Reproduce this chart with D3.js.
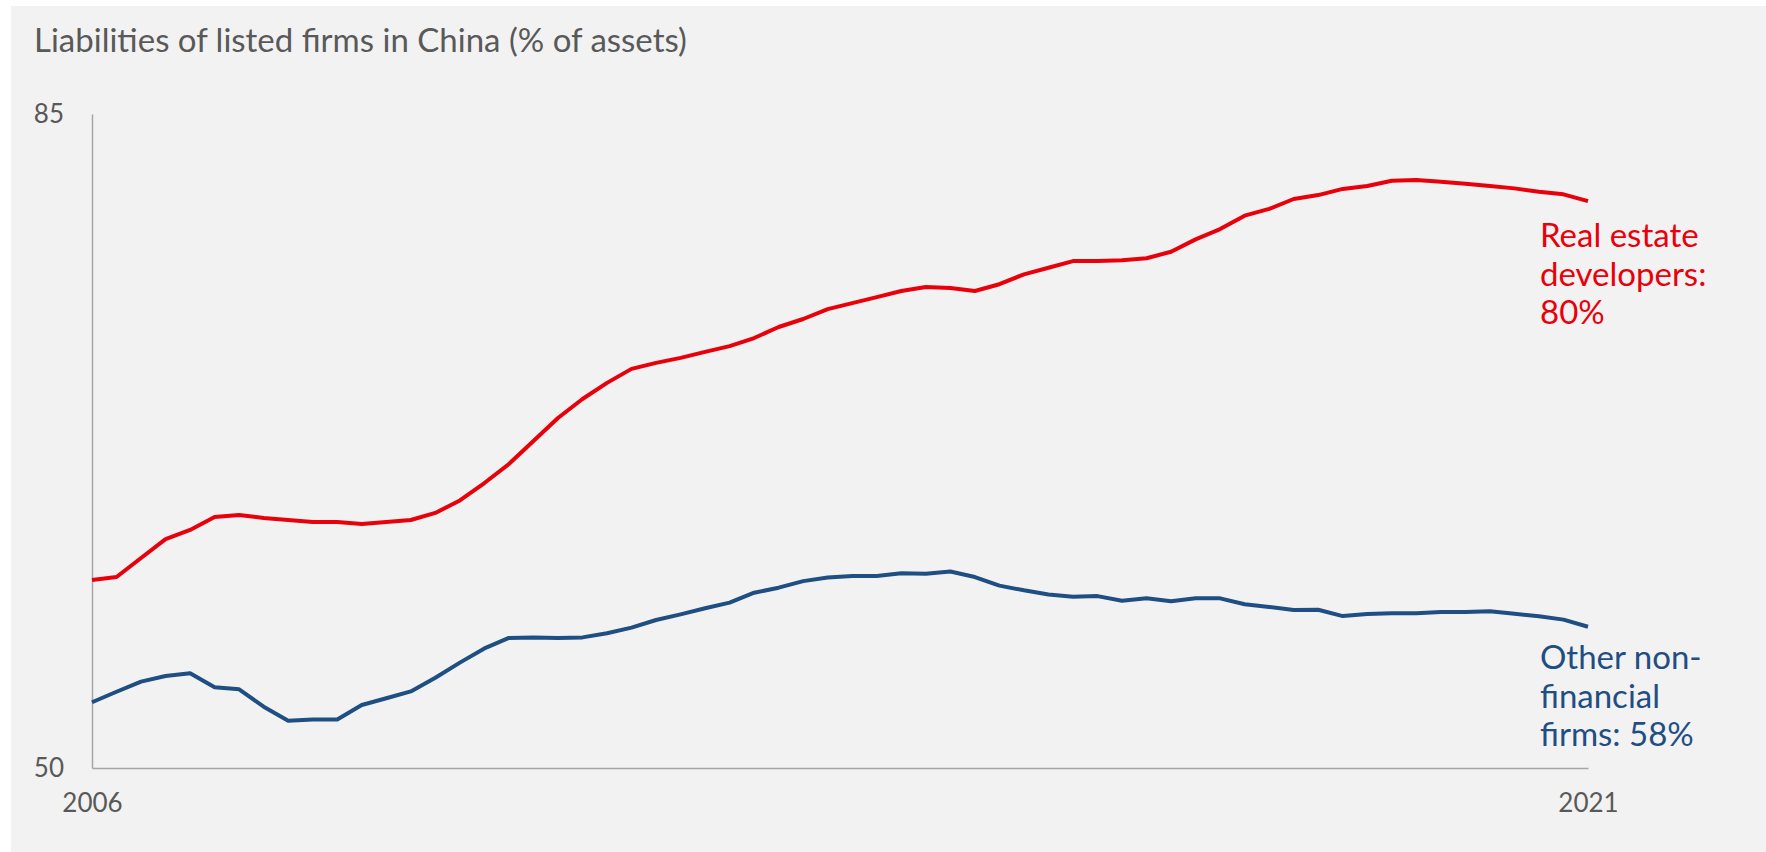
<!DOCTYPE html>
<html>
<head>
<meta charset="utf-8">
<script src="https://cdn.jsdelivr.net/npm/d3@7"></script>
<style>
  body { margin: 0; background: #fff; overflow: hidden; }
  svg { display: block; font-family: Lato, "Open Sans", sans-serif; }
</style>
</head>
<body>
<div id="chart"></div>
<script>
// Data: quarterly, 2006 Q1 .. 2021 Q2 (% of assets)
const periods = d3.range(62).map(i => 2006 + i * 0.25);

const realEstate = [
  60.06, 60.22, 61.24, 62.25, 62.74, 63.43, 63.54, 63.38, 63.27, 63.16,
  63.16, 63.06, 63.16, 63.27, 63.65, 64.32, 65.25, 66.27, 67.50, 68.73,
  69.75, 70.61, 71.36, 71.68, 71.95, 72.27, 72.58, 73.01, 73.60, 74.03,
  74.56, 74.88, 75.20, 75.53, 75.74, 75.69, 75.53, 75.89, 76.42, 76.77,
  77.13, 77.13, 77.17, 77.28, 77.63, 78.29, 78.84, 79.56, 79.92, 80.45,
  80.66, 80.99, 81.15, 81.43, 81.47, 81.37, 81.27, 81.15, 81.02, 80.84,
  80.70, 80.34
];

const otherNonFin = [
  53.52, 54.08, 54.62, 54.92, 55.07, 54.32, 54.21, 53.28, 52.53, 52.60,
  52.60, 53.37, 53.73, 54.10, 54.83, 55.64, 56.40, 56.96, 56.99, 56.96,
  56.99, 57.21, 57.51, 57.92, 58.22, 58.55, 58.85, 59.38, 59.65, 60.00,
  60.19, 60.28, 60.28, 60.42, 60.40, 60.52, 60.22, 59.76, 59.51, 59.29,
  59.17, 59.20, 58.95, 59.08, 58.92, 59.08, 59.08, 58.76, 58.62, 58.46,
  58.47, 58.13, 58.24, 58.28, 58.28, 58.35, 58.35, 58.39, 58.26, 58.12,
  57.94, 57.56
];

const yTicks = [50, 85];
const xTickLabels = ['2006', '2021'];
const seriesNames = [
  ['Real estate', 'developers:', '80%'],
  ['Other non-', 'financial', 'firms: 58%']
];
const seriesColors = ['#e8000b', '#1f4e82'];

// Layout
const width = 1766;
const height = 852;
const plotLeft = 92, plotRight = 1588, plotTop = 114, plotBottom = 768;

const svg = d3.select('#chart')
  .append('svg')
  .attr('width', width)
  .attr('height', height);

// Background panel
svg.append('rect')
  .attr('x', 11).attr('y', 6)
  .attr('width', width - 11).attr('height', height - 6)
  .attr('fill', '#f2f2f2');

// Title
svg.append('text')
  .attr('x', 34).attr('y', 52)
  .attr('fill', '#595959')
  .style('font-size', '33px')
  .text('Liabilities of listed firms in China (% of assets)');

// Scales
const x = d3.scaleLinear()
  .domain(d3.extent(periods))
  .range([plotLeft, plotRight]);

const y = d3.scaleLinear()
  .domain([50, 85])
  .range([plotBottom, plotTop]);

// Axes
const yAxis = svg.append('g')
  .attr('transform', `translate(${plotLeft},0)`)
  .call(d3.axisLeft(y).tickValues(yTicks).tickSize(0).tickPadding(28));

const xAxis = svg.append('g')
  .attr('transform', `translate(0,${plotBottom})`)
  .call(d3.axisBottom(x)
    .tickValues(d3.extent(periods))
    .tickFormat((d, i) => xTickLabels[i])
    .tickSize(0).tickPadding(26));

[yAxis, xAxis].forEach(ax => {
  ax.select('.domain').attr('stroke', '#a6a6a6').attr('stroke-width', 1.5);
  ax.selectAll('text')
    .attr('fill', '#595959')
    .style('font-size', '26px')
    .style('font-family', 'Lato, sans-serif');
});
xAxis.selectAll('text').attr('dy', '0.71em');

// Lines
const line = d3.line()
  .x((d, i) => x(periods[i]))
  .y(d => y(d));

[realEstate, otherNonFin].forEach((series, k) => {
  svg.append('path')
    .datum(series)
    .attr('fill', 'none')
    .attr('stroke', seriesColors[k])
    .attr('stroke-width', 4)
    .attr('stroke-linejoin', 'round')
    .attr('d', line);
});

// Series labels
const labelTops = [247, 669];
seriesNames.forEach((lines, k) => {
  const t = svg.append('text')
    .attr('x', 1540)
    .attr('y', labelTops[k])
    .attr('fill', seriesColors[k])
    .style('font-size', '33px');
  lines.forEach((s, j) => {
    t.append('tspan')
      .attr('x', 1540)
      .attr('dy', j === 0 ? 0 : 38.5)
      .text(s);
  });
});
</script>
</body>
</html>
